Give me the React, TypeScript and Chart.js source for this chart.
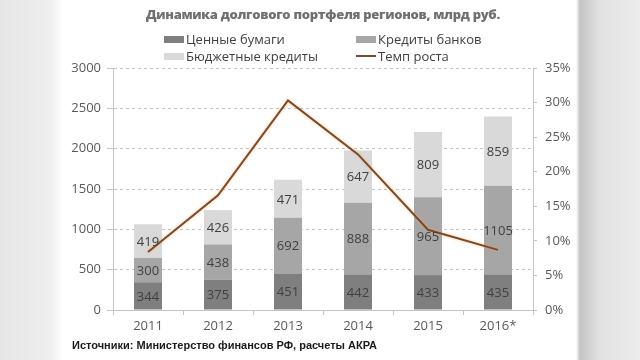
import React, { useEffect, useRef } from "react";
import { Chart, registerables } from "chart.js";

Chart.register(...registerables);

const years = ["2011", "2012", "2013", "2014", "2015", "2016*"];
const securities = [344, 375, 451, 442, 433, 435];
const bankLoans = [300, 438, 692, 888, 965, 1105];
const budgetLoans = [419, 426, 471, 647, 809, 859];
const growthRate = [0.084, 0.166, 0.303, 0.225, 0.116, 0.087];

const leftTicks = [0, 500, 1000, 1500, 2000, 2500, 3000];

const COLORS = {
  securities: "#7f7f7f",
  bank: "#a6a6a6",
  budget: "#d9d9d9",
  line: "#7b4a2b",
  grid: "#c4c4c4",
  text: "#595959",
};

const barLabelPlugin = {
  id: "barLabels",
  afterDatasetsDraw(chart: any) {
    const ctx = chart.ctx;
    ctx.save();
    ctx.font = '13px "Open Sans", sans-serif';
    ctx.fillStyle = "#404040";
    ctx.textAlign = "center";
    ctx.textBaseline = "middle";
    chart.data.datasets.forEach((ds: any, i: number) => {
      if (ds.type === "line") return;
      const meta = chart.getDatasetMeta(i);
      meta.data.forEach((el: any, j: number) => {
        const p = el.getProps(["x", "y", "base"], true);
        ctx.fillText(String(ds.data[j]), p.x, (p.y + p.base) / 2 + 1);
      });
    });
    ctx.restore();
  },
};

const lineGlowPlugin = {
  id: "lineGlow",
  beforeDatasetDraw(chart: any, args: any) {
    const ds = chart.data.datasets[args.index];
    if (ds.type !== "line") return;
    chart.ctx.save();
    chart.ctx.shadowColor = "rgba(255,170,90,0.7)";
    chart.ctx.shadowBlur = 3;
  },
  afterDatasetDraw(chart: any, args: any) {
    const ds = chart.data.datasets[args.index];
    if (ds.type !== "line") return;
    chart.ctx.restore();
  },
};

const legendItems = [
  { label: "Ценные бумаги", color: COLORS.securities, kind: "box", x: 164, y: 39 },
  { label: "Кредиты банков", color: COLORS.bank, kind: "box", x: 356, y: 39 },
  { label: "Бюджетные кредиты", color: COLORS.budget, kind: "box", x: 164, y: 56 },
  { label: "Темп роста", color: COLORS.line, kind: "line", x: 356, y: 56 },
];

export default function App() {
  const ref = useRef<HTMLCanvasElement>(null);

  useEffect(() => {
    document.body.style.margin = "0";
    const chart = new Chart(ref.current!, {
      type: "bar",
      data: {
        labels: years,
        datasets: [
          {
            type: "line",
            label: "Темп роста",
            data: growthRate,
            yAxisID: "y1",
            borderColor: COLORS.line,
            borderWidth: 2,
            pointRadius: 0,
            tension: 0,
            order: 0,
          } as any,
          {
            label: "Ценные бумаги",
            data: securities,
            backgroundColor: COLORS.securities,
            yAxisID: "y",
            order: 1,
          },
          {
            label: "Кредиты банков",
            data: bankLoans,
            backgroundColor: COLORS.bank,
            yAxisID: "y",
            order: 1,
          },
          {
            label: "Бюджетные кредиты",
            data: budgetLoans,
            backgroundColor: COLORS.budget,
            yAxisID: "y",
            order: 1,
          },
        ],
      },
      options: {
        animation: false,
        responsive: false,
        maintainAspectRatio: false,
        datasets: { bar: { barPercentage: 0.4, categoryPercentage: 1 } },
        layout: { padding: { top: 68, left: 0, right: 0, bottom: 0 } },
        plugins: {
          legend: { display: false },
          title: { display: false },
          tooltip: { enabled: false },
        },
        scales: {
          x: {
            stacked: true,
            afterFit: (s: any) => {
              s.height = 50;
            },
            grid: {
              offset: true,
              drawOnChartArea: false,
              color: COLORS.grid,
              tickLength: 5,
            },
            border: { color: COLORS.grid, width: 1 },
            ticks: {
              color: COLORS.text,
              font: { family: "Open Sans", size: 13 },
              padding: 3,
            },
          },
          y: {
            stacked: true,
            position: "left",
            min: 0,
            max: 3000,
            afterFit: (s: any) => {
              s.width = 113;
            },
            afterBuildTicks: (s: any) => {
              s.ticks = leftTicks.map((v) => ({ value: v }));
            },
            grid: {
              color: COLORS.grid,
              tickLength: 6,
            },
            border: { color: COLORS.grid, width: 1, dash: [3, 3] },
            ticks: {
              color: COLORS.text,
              font: { family: "Open Sans", size: 13 },
              padding: 6,
              callback: (v: any) => String(v),
            },
          },
          y1: {
            position: "right",
            min: 0,
            max: 0.35,
            afterFit: (s: any) => {
              s.width = 107;
            },
            grid: {
              drawOnChartArea: false,
              color: COLORS.grid,
              tickLength: 4,
            },
            border: { color: COLORS.grid, width: 1 },
            ticks: {
              stepSize: 0.05,
              color: COLORS.text,
              font: { family: "Open Sans", size: 13 },
              padding: 8,
              callback: (v: any) => Math.round(Number(v) * 100) + "%",
            },
          },
        },
      },
      plugins: [barLabelPlugin, lineGlowPlugin],
    });
    return () => chart.destroy();
  }, []);

  return (
    <div
      style={{
        position: "fixed",
        left: 0,
        top: 0,
        width: 640,
        height: 360,
        overflow: "hidden",
        background:
          "linear-gradient(to right, #e6e6e6 0px, #eeeeee 50px, #ffffff 63px, #ffffff 576px, #c4c4c4 580px, #e2e2e2 600px, #ececec 640px)",
        fontFamily: '"Open Sans", sans-serif',
      }}
    >
      <canvas
        ref={ref}
        width={640}
        height={360}
        style={{ position: "absolute", left: 0, top: 0, width: 640, height: 360 }}
      />
      <div
        style={{
          position: "absolute",
          left: 0,
          width: 646,
          top: 5,
          textAlign: "center",
          fontWeight: 800,
          fontSize: 13,
          color: "#707070",
          letterSpacing: -0.3,
          whiteSpace: "nowrap",
        }}
      >
        Динамика долгового портфеля регионов, млрд руб.
      </div>
      {legendItems.map((it) => (
        <div
          key={it.label}
          style={{
            position: "absolute",
            left: it.x,
            top: it.y - 9,
            height: 18,
            display: "flex",
            alignItems: "center",
            fontSize: 13,
            color: "#404040",
            whiteSpace: "nowrap",
          }}
        >
          <span
            style={{
              display: "inline-block",
              width: 20,
              height: it.kind === "box" ? 7 : 2,
              background: it.color,
              marginRight: 2,
            }}
          />
          {it.label}
        </div>
      ))}
      <div
        style={{
          position: "absolute",
          left: 72,
          top: 339,
          fontFamily: '"Liberation Sans", Arial, sans-serif',
          fontWeight: 700,
          fontSize: 11,
          color: "#1a1a1a",
          whiteSpace: "nowrap",
        }}
      >
        Источники: Министерство финансов РФ, расчеты АКРА
      </div>
    </div>
  );
}
